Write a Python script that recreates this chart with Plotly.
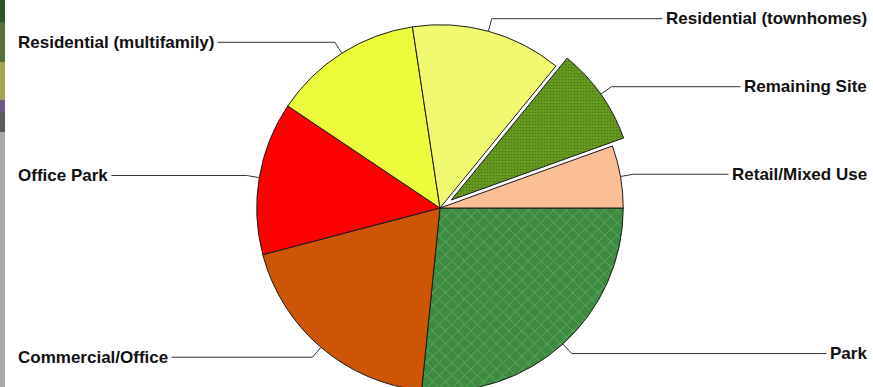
import math
import plotly.graph_objects as go

# ---- data ----
labels = ["Park", "Commercial/Office", "Office Park", "Residential (multifamily)",
          "Residential (townhomes)", "Remaining Site", "Retail/Mixed Use"]
values = [26.6, 19.3, 13.5, 13.2, 13.3, 8.6, 5.5]

# ---- styles ----
colors = ["#3d8b41", "#cc5606", "#ff0000", "#ecfb3a", "#f1f970", "#6b9f22", "#fbbf96"]
pulls = [0, 0, 0, 0, 0, 0.075, 0]
pat_shape = ["x", "", "", "", "", ".", ""]
pat_fg = ["#6fb46a", "#cc5606", "#ff0000", "#ecfb3a", "#f1f970", "#4f7e15", "#fbbf96"]

FW, FH = 873, 405
DOM_X = [0.008, 1.0]
DOM_Y = [0.0, 394 / FH]
ROT = 90

fig = go.Figure(go.Pie(
    labels=labels, values=values, sort=False, direction="clockwise", rotation=ROT,
    pull=pulls, textinfo="none", hoverinfo="label+percent",
    marker=dict(colors=colors, line=dict(color="#1a1a1a", width=1),
                pattern=dict(shape=pat_shape, fgcolor=pat_fg, bgcolor=colors,
                             size=[9, 8, 8, 8, 8, 3, 8],
                             solidity=[0.15, 0.3, 0.3, 0.3, 0.3, 0.4, 0.3])),
    domain=dict(x=DOM_X, y=DOM_Y),
    showlegend=False,
))

# pie geometry (as plotly computes it)
pw = FW * (DOM_X[1] - DOM_X[0])
ph = FH * (DOM_Y[1] - DOM_Y[0])
R = min(pw, ph) / (2 + 2 * max(pulls))
CX = FW * (DOM_X[0] + DOM_X[1]) / 2
CY = FH * (2 - DOM_Y[1] - DOM_Y[0]) / 2

def px2paper(x, y):
    return x / FW, 1 - y / FH

shapes = []
annotations = []
total = sum(values)
cum = 0
for lab, v, p in zip(labels, values, pulls):
    mid = math.radians(ROT + (cum + v / 2) * 360 / total)
    cum += v
    s, c = math.sin(mid), -math.cos(mid)
    ox, oy = CX + p * R * s, CY + p * R * c
    ax, ay = ox + R * s, oy + R * c
    ex, ey = ox + (R + 13) * s, oy + (R + 13) * c
    right = s > 0
    boxx = 871 if right else 14
    endx = 858 if right else 26
    for (x0, y0, x1, y1) in [(ax, ay, ex, ey), (ex, ey, endx, ey)]:
        a0 = px2paper(x0, y0); a1 = px2paper(x1, y1)
        shapes.append(dict(type="line", xref="paper", yref="paper",
                           x0=a0[0], y0=a0[1], x1=a1[0], y1=a1[1],
                           line=dict(color="#333333", width=1)))
    tx, ty = px2paper(boxx, ey)
    annotations.append(dict(text=lab, xref="paper", yref="paper", x=tx, y=ty,
                            xanchor="right" if right else "left", yanchor="middle",
                            showarrow=False, bgcolor="white", borderpad=3,
                            font=dict(family="Liberation Sans, Arial, sans-serif",
                                      size=17, color="#111111", weight="bold")))

# photo strip at left edge
strip = [(0, 22, "#2d5628"), (22, 62, "#56703a"), (62, 100, "#a3a653"),
         (100, 112, "#6b5b86"), (112, 132, "#5a5a5a"), (132, FH, "#a9a9a7")]
for y0, y1, col in strip:
    a0 = px2paper(0, y0); a1 = px2paper(5, y1)
    shapes.append(dict(type="rect", xref="paper", yref="paper",
                       x0=a0[0], y0=a0[1], x1=a1[0], y1=a1[1],
                       line=dict(width=0), fillcolor=col, layer="below"))

fig.update_layout(width=FW, height=FH, margin=dict(l=0, r=0, t=0, b=0),
                  paper_bgcolor="white", plot_bgcolor="white",
                  shapes=shapes, annotations=annotations)

fig.write_html("out.html")
